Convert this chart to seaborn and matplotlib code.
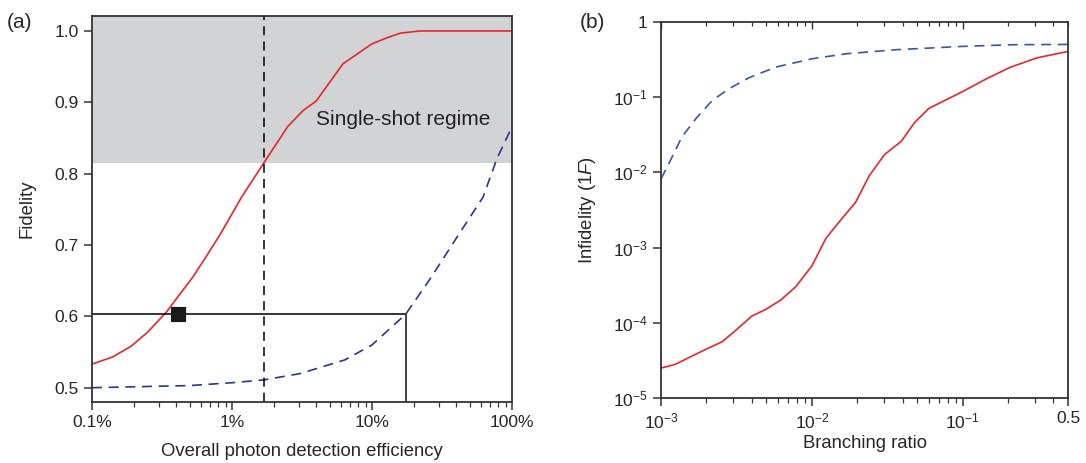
import numpy as np
import pandas as pd
import matplotlib
matplotlib.use("Agg")
import matplotlib.pyplot as plt
import matplotlib.ticker as mticker
import seaborn as sns

# (a) fidelity vs overall photon detection efficiency
eff_red = [0.001, 0.0014, 0.0019, 0.0025, 0.0034, 0.0042, 0.00525, 0.0066, 0.0083, 0.0117,
           0.017, 0.025, 0.032, 0.040, 0.062, 0.10, 0.13, 0.16, 0.22, 0.40, 1.0]
fid_red = [0.533, 0.543, 0.558, 0.578, 0.606, 0.630, 0.655, 0.685, 0.716, 0.767,
           0.816, 0.866, 0.888, 0.902, 0.954, 0.982, 0.991, 0.997, 1.0, 1.0, 1.0]
eff_blue = [0.001, 0.005, 0.010, 0.017, 0.031, 0.064, 0.10, 0.174, 0.265, 0.42, 0.62, 0.78, 1.0]
fid_blue = [0.500, 0.503, 0.507, 0.511, 0.520, 0.539, 0.560, 0.603, 0.655, 0.716, 0.767, 0.821, 0.866]
eff_marker = [0.0041]
fid_marker = [0.603]
eff_cut = 0.017
eff_guide = 0.174
fid_guide = 0.603
regime_low = 0.815

# (b) infidelity vs branching ratio
br_red = [0.001, 0.00124, 0.00187, 0.00254, 0.0031, 0.0040, 0.00493, 0.0062, 0.0078, 0.010,
          0.0124, 0.016, 0.0195, 0.024, 0.0303, 0.0392, 0.048, 0.0597, 0.074, 0.10,
          0.144, 0.207, 0.311, 0.5]
inf_red = [2.5e-5, 2.8e-5, 4.2e-5, 5.6e-5, 7.8e-5, 1.23e-4, 1.5e-4, 2.0e-4, 3.0e-4, 5.7e-4,
           1.33e-3, 2.5e-3, 4.0e-3, 9.0e-3, 1.72e-2, 2.6e-2, 4.6e-2, 7.1e-2, 8.8e-2, 0.119,
           0.176, 0.25, 0.334, 0.406]
br_blue = [0.001, 0.00118, 0.00137, 0.00169, 0.00218, 0.00281, 0.00382, 0.00575, 0.010,
           0.0169, 0.0363, 0.10, 0.218, 0.5]
inf_blue = [8.2e-3, 1.58e-2, 2.93e-2, 5.1e-2, 9.0e-2, 0.129, 0.181, 0.251, 0.324,
            0.378, 0.428, 0.474, 0.499, 0.503]

red = "#e8262a"
navy = "#2b3590"
blue_b = "#3a55a8"

sns.set_theme(style="ticks")
plt.rcParams["font.family"] = ["Liberation Sans", "DejaVu Sans"]
plt.rcParams["mathtext.fontset"] = "custom"
plt.rcParams["mathtext.rm"] = "Liberation Sans"
plt.rcParams["mathtext.it"] = "Liberation Sans:italic"
plt.rcParams["axes.edgecolor"] = "#333333"
plt.rcParams["axes.linewidth"] = 1.3

fig = plt.figure(figsize=(10.86, 4.63), dpi=100)
ax1 = fig.add_axes([0.0847, 0.1318, 0.3868, 0.8337])
ax2 = fig.add_axes([0.6087, 0.1404, 0.3748, 0.8121])

# ---- panel (a)
ax1.axhspan(regime_low, 1.1, color="#d1d3d4", lw=0, zorder=0)
sns.lineplot(x=eff_red, y=fid_red, ax=ax1, color=red, lw=1.2, sort=False)
sns.lineplot(x=eff_blue, y=fid_blue, ax=ax1, color=navy, lw=1.2, sort=False,
             linestyle=(0, (6, 4)))
ax1.axvline(eff_cut, color="black", lw=1.1, linestyle=(0, (6, 4)))
ax1.plot([0.001, eff_guide], [fid_guide, fid_guide], color="black", lw=1.1)
ax1.plot([eff_guide, eff_guide], [0.40, fid_guide], color="#333333", lw=1.3)
sns.scatterplot(x=eff_marker, y=fid_marker, ax=ax1, marker="s", s=110, color="#1a1a1a",
                edgecolor="#1a1a1a", zorder=5)
ax1.text(0.04, 0.876, "Single-shot regime", fontsize=15, color="#222222", va="center")
ax1.set_xscale("log")
ax1.set_xlim(0.001, 1.0)
ax1.set_ylim(0.480, 1.021)
ax1.set_yticks([0.5, 0.6, 0.7, 0.8, 0.9, 1.0])
ax1.yaxis.set_major_formatter(mticker.FormatStrFormatter("%.1f"))
ax1.set_xticks([0.001, 0.01, 0.1, 1.0])
ax1.set_xticklabels(["0.1%", "1%", "10%", "100%"])
ax1.xaxis.set_minor_locator(mticker.LogLocator(base=10, subs=np.arange(2, 10)))
ax1.xaxis.set_minor_formatter(mticker.NullFormatter())
ax1.tick_params(axis="both", which="major", labelsize=12.5, length=6, width=1.1, color="#333333")
ax1.tick_params(axis="x", which="minor", length=3.5, width=0.9, color="#333333")
ax1.set_xlabel("Overall photon detection efficiency", fontsize=13.3, labelpad=9)
ax1.set_ylabel("Fidelity", fontsize=13.3, labelpad=14)
for s in ax1.spines.values():
    s.set_visible(True)

# ---- panel (b)
sns.lineplot(x=br_red, y=inf_red, ax=ax2, color=red, lw=1.2, sort=False)
sns.lineplot(x=br_blue, y=inf_blue, ax=ax2, color=blue_b, lw=1.2, sort=False,
             linestyle=(0, (6, 4)))
ax2.set_xscale("log")
ax2.set_yscale("log")
ax2.set_xlim(0.001, 0.5)
ax2.set_ylim(1e-5, 1)
ax2.set_xticks([1e-3, 1e-2, 1e-1, 0.5])
ax2.set_xticklabels([r"$10^{-3}$", r"$10^{-2}$", r"$10^{-1}$", "0.5"])
ax2.xaxis.set_minor_locator(mticker.LogLocator(base=10, subs=np.arange(2, 10)))
ax2.xaxis.set_minor_formatter(mticker.NullFormatter())
ax2.set_yticks([1e-5, 1e-4, 1e-3, 1e-2, 1e-1, 1])
ax2.set_yticklabels([r"$10^{-5}$", r"$10^{-4}$", r"$10^{-3}$", r"$10^{-2}$", r"$10^{-1}$", "1"])
ax2.yaxis.set_minor_locator(mticker.NullLocator())
ax2.tick_params(axis="both", which="major", labelsize=12.5, length=6, width=1.1, color="#333333")
ax2.tick_params(axis="x", which="minor", length=3.5, width=0.9, color="#333333")
ax2.set_xlabel("Branching ratio", fontsize=13.3, labelpad=3)
ax2.set_ylabel(r"Infidelity (1$F$)", fontsize=13.3, labelpad=11)
for s in ax2.spines.values():
    s.set_visible(True)

top = ax2.secondary_xaxis("top")
top.set_xticks([1e-3, 1e-2, 1e-1])
top.xaxis.set_minor_locator(mticker.LogLocator(base=10, subs=np.arange(2, 10)))
top.xaxis.set_minor_formatter(mticker.NullFormatter())
top.tick_params(axis="x", which="both", direction="in", labeltop=False, color="#333333")
top.tick_params(axis="x", which="major", length=5, width=1.0)
top.tick_params(axis="x", which="minor", length=3, width=0.9)
top.spines["top"].set_visible(False)

fig.text(0.006, 0.952, "(a)", fontsize=15, va="center")
fig.text(0.534, 0.952, "(b)", fontsize=15, va="center")

fig.savefig("out.png", dpi=100)
